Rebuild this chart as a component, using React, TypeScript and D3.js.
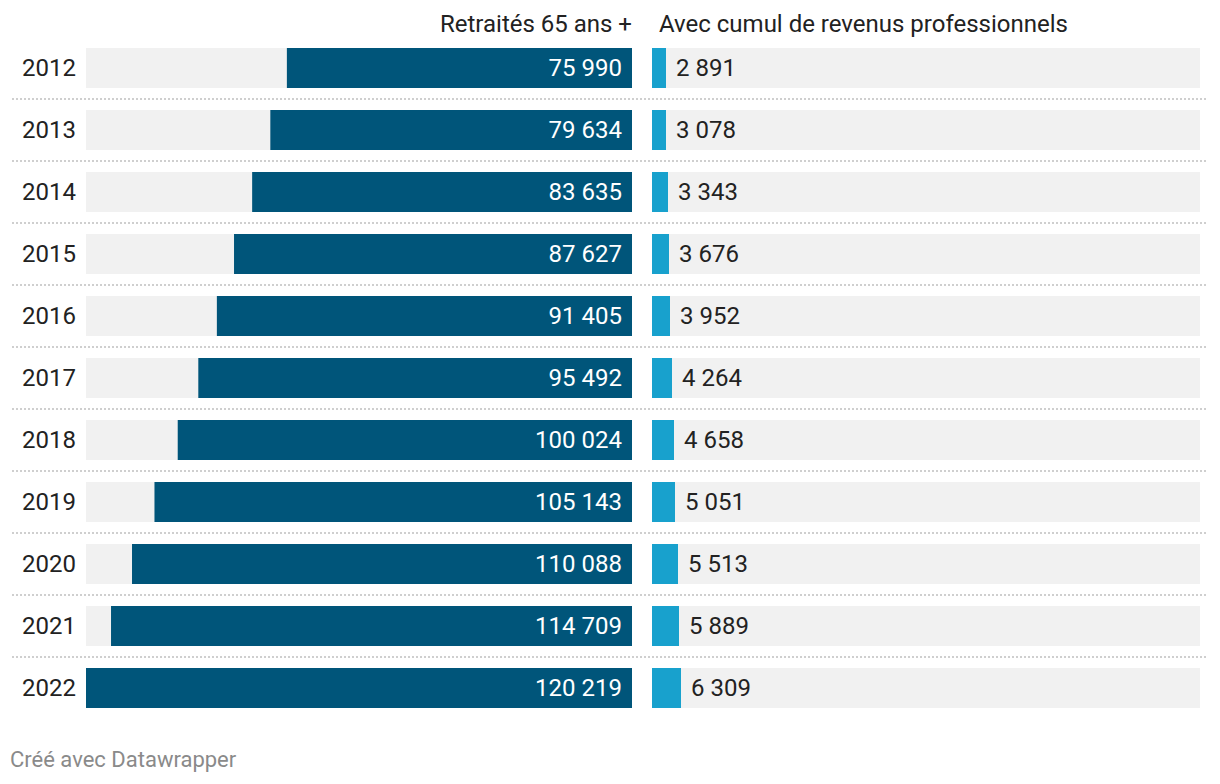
import React from "react";
import * as d3 from "d3";

const years = ["2012", "2013", "2014", "2015", "2016", "2017", "2018", "2019", "2020", "2021", "2022"];
const retraites = [75990, 79634, 83635, 87627, 91405, 95492, 100024, 105143, 110088, 114709, 120219];
const cumul = [2891, 3078, 3343, 3676, 3952, 4264, 4658, 5051, 5513, 5889, 6309];
const headers = ["Retraités 65 ans +", "Avec cumul de revenus professionnels"];
const footer = "Créé avec Datawrapper";

const W = 1220;
const H = 784;
const FONT = "Roboto, 'Noto Sans', sans-serif";

export default function App() {
  const loc = d3.formatLocale({ decimal: ",", thousands: " ", grouping: [3], currency: ["", " €"] });
  const fmt = loc.format(",d");

  const step = 62;
  const bw = 40;
  const yPos = d3.scaleLinear().domain([0, 1]).range([48, 48 + step]);

  const leftX0 = 86;
  const leftX1 = 632;
  const rightX0 = 652;
  const rightX1 = 1200;
  const max = d3.max(retraites) as number;
  const xl = d3.scaleLinear().domain([0, max]).range([0, leftX1 - leftX0]);
  const xr = d3.scaleLinear().domain([0, max]).range([0, leftX1 - leftX0]);

  return (
    <svg width={W} height={H} style={{ position: "absolute", left: 0, top: 0, background: "#fff" }} fontFamily={FONT}>
      <text x={leftX1} y={32} textAnchor="end" fontSize={24} fill="#222">{headers[0]}</text>
      <text x={659} y={32} textAnchor="start" fontSize={24} fill="#222">{headers[1]}</text>
      {years.map((yr, i) => {
        const top = yPos(i);
        const cy = top + bw / 2;
        const lw = xl(retraites[i]);
        const rw = Math.ceil(xr(cumul[i]));
        return (
          <g key={yr}>
            <text x={22} y={cy} dy="0.34em" fontSize={24} fill="#222">{yr}</text>
            <rect x={leftX0} y={top} width={leftX1 - leftX0} height={bw} fill="#f1f1f1" />
            <rect x={leftX1 - lw} y={top} width={lw} height={bw} fill="#00557a" />
            <text x={leftX1 - 10} y={cy} dy="0.34em" textAnchor="end" fontSize={24} fill="#fff">{fmt(retraites[i])}</text>
            <rect x={rightX0} y={top} width={rightX1 - rightX0} height={bw} fill="#f1f1f1" />
            <rect x={rightX0} y={top} width={rw} height={bw} fill="#18a1cd" />
            <text x={rightX0 + rw + 10} y={cy} dy="0.34em" textAnchor="start" fontSize={24} fill="#222">{fmt(cumul[i])}</text>
            {i < years.length - 1 && (
              <line x1={12} x2={1208} y1={top + bw + 11} y2={top + bw + 11} stroke="#cfcfcf" strokeWidth={2} strokeDasharray="2,2" />
            )}
          </g>
        );
      })}
      <text x={10} y={767} fontSize={22} fill="#8a8a8a">{footer}</text>
    </svg>
  );
}
